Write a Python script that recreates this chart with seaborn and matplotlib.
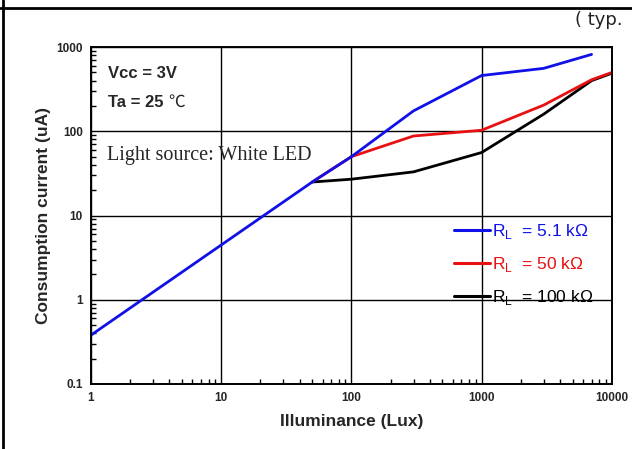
"""Consumption current vs illuminance (typ.)"""
import matplotlib.pyplot as plt
import matplotlib.ticker as mticker
from matplotlib.lines import Line2D
import numpy as np
import pandas as pd
import seaborn as sns

# data
lux_51k = [1, 50, 100, 300, 1000, 3000, 7000]
ua_51k = [0.38, 25, 50, 175, 460, 560, 820]
lux_50k = [50, 100, 300, 1000, 3000, 7000, 10000]
ua_50k = [25, 50, 88, 103, 205, 410, 500]
lux_100k = [50, 100, 300, 1000, 3000, 7000, 10000]
ua_100k = [25, 27, 33, 56, 160, 400, 490]

series = ["5.1k", "50k", "100k"]
labels = [r"R$_\mathregular{L}$  = 5.1 kΩ", r"R$_\mathregular{L}$  = 50 kΩ", r"R$_\mathregular{L}$  = 100 kΩ"]
colors = ["#1010e8", "#e81010", "#000000"]

df = pd.concat([
    pd.DataFrame({"lux": lux_51k, "ua": ua_51k, "rl": "5.1k"}),
    pd.DataFrame({"lux": lux_50k, "ua": ua_50k, "rl": "50k"}),
    pd.DataFrame({"lux": lux_100k, "ua": ua_100k, "rl": "100k"}),
])

sns.set_style("white")
plt.rcParams["font.family"] = ["Liberation Sans", "DejaVu Sans"]

fig = plt.figure(figsize=(6.32, 4.49), dpi=100)
ax = fig.add_axes([0.144, 0.145, 0.824, 0.750])

# draw black on bottom, then red, then blue on top
for name in ["100k", "50k", "5.1k"]:
    i = series.index(name)
    sns.lineplot(data=df[df["rl"] == name], x="lux", y="ua", color=colors[i],
                 linewidth=2.0, ax=ax, legend=False, sort=False)

ax.set_xscale("log")
ax.set_yscale("log")
ax.set_xlim(1, 10000)
ax.set_ylim(0.1, 1000)

ax.xaxis.set_major_formatter(mticker.FuncFormatter(lambda v, p: f"{v:g}"))
ax.yaxis.set_major_formatter(mticker.FuncFormatter(lambda v, p: f"{v:g}"))
ax.xaxis.set_minor_locator(mticker.LogLocator(base=10, subs=np.arange(2, 10)))
ax.yaxis.set_minor_locator(mticker.LogLocator(base=10, subs=np.arange(2, 10)))
ax.xaxis.set_minor_formatter(mticker.NullFormatter())
ax.yaxis.set_minor_formatter(mticker.NullFormatter())
ax.tick_params(which="major", length=0, labelsize=8.5, pad=6)
ax.tick_params(which="minor", direction="in", length=3.5, width=1, color="black",
               bottom=True, left=True)
for t in ax.get_xticklabels() + ax.get_yticklabels():
    t.set_fontweight("bold")

ax.grid(True, which="major", color="black", linewidth=1)
for s in ax.spines.values():
    s.set_color("black")
    s.set_linewidth(1.4)

ax.set_xlabel("Illuminance (Lux)", fontsize=12.5, fontweight="bold", labelpad=7)
ax.set_ylabel("Consumption current (uA)", fontsize=12.5, fontweight="bold", labelpad=4)

ax.text(0.033, 0.923, "Vcc = 3V", transform=ax.transAxes, fontsize=12,
        fontweight="bold", va="center")
ax.text(0.033, 0.837, "Ta = 25 ", transform=ax.transAxes, fontsize=12,
        fontweight="bold", va="center")
ax.text(0.148, 0.837, "℃", transform=ax.transAxes, fontsize=12,
        family="Noto Sans CJK JP", va="center")
ax.text(0.031, 0.677, "Light source: White LED", transform=ax.transAxes, fontsize=14.5,
        family="Liberation Serif", va="center")

handles = [Line2D([], [], color=c, linewidth=2.2) for c in colors]
leg = ax.legend(handles, labels, loc="upper left", bbox_to_anchor=(0.683, 0.50),
                frameon=False, fontsize=12.5, handlelength=2.1, handletextpad=0.1,
                labelspacing=0.8, borderaxespad=0)
for t, c in zip(leg.get_texts(), colors):
    t.set_color(c)

fig.text(0.91, 0.955, "( typ.", fontsize=13, ha="left", va="center",
         family="DejaVu Sans", color="#222222")
fig.add_artist(Line2D([0, 1], [0.983, 0.983], color="black", linewidth=2, transform=fig.transFigure))
fig.add_artist(Line2D([0.004, 0.004], [0, 1], color="black", linewidth=2, transform=fig.transFigure))

fig.savefig("out.png", dpi=100)
